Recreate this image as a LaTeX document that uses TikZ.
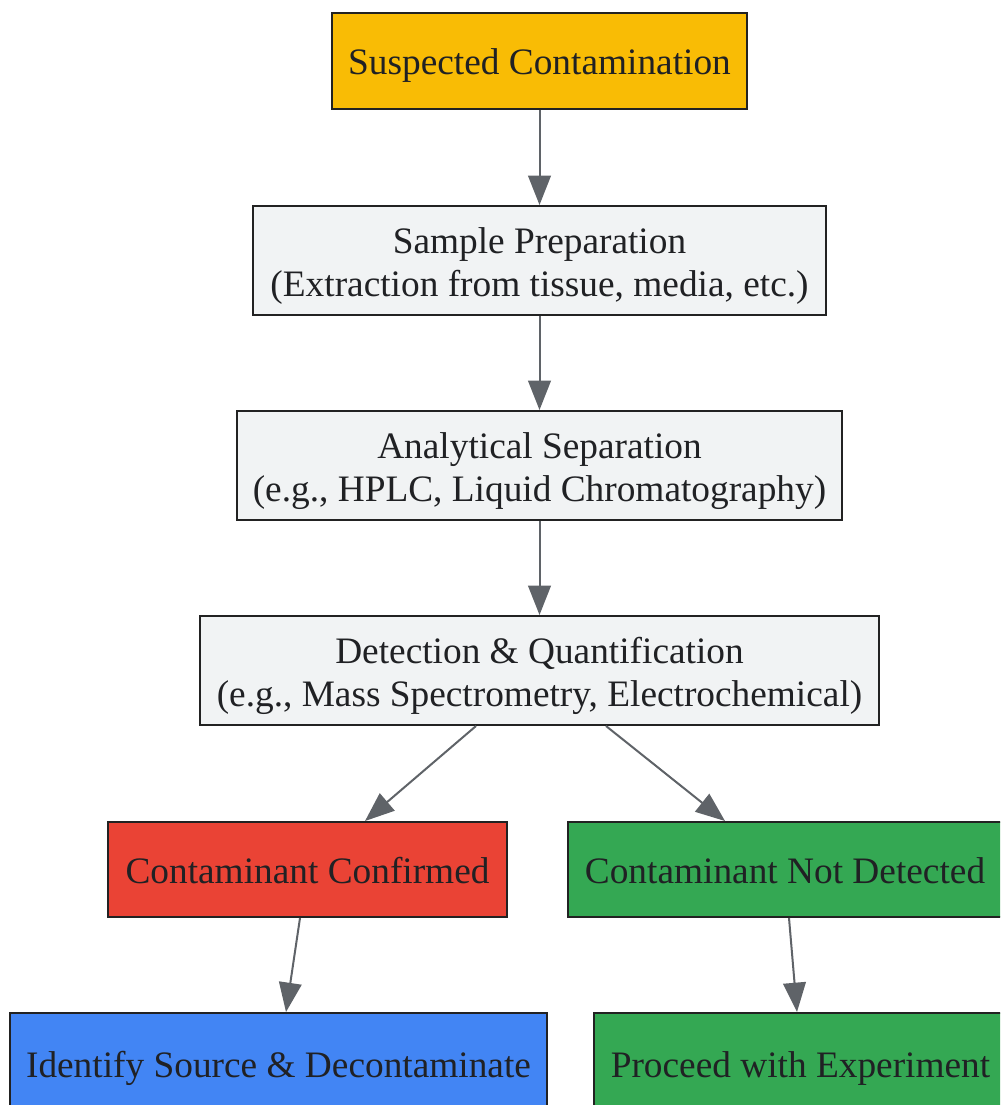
\documentclass[tikz,border=0pt]{standalone}
\usepackage{fontspec}
\setmainfont{Liberation Serif}
\usetikzlibrary{arrows.meta,calc}
\definecolor{txt}{HTML}{202124}
\definecolor{edge}{HTML}{5F6368}
\definecolor{bord}{HTML}{222222}
\definecolor{cyel}{HTML}{F9BC05}
\definecolor{cgry}{HTML}{F1F3F4}
\definecolor{cred}{HTML}{EA4335}
\definecolor{cgrn}{HTML}{34A853}
\definecolor{cblu}{HTML}{4285F4}
\tikzset{
  box/.style={draw=bord, line width=1.5pt, rectangle, inner sep=0pt},
  lbl/.style={align=center, text=txt, inner sep=0pt, yshift=-4pt,
    font=\fontsize{28}{32.5}\selectfont},
  conn/.style={draw=edge, line width=1.5pt, -{Triangle[length=22pt,width=17pt]}},
}
\begin{document}
\begin{tikzpicture}[x=0.75pt,y=-0.75pt]
\useasboundingbox (0,0) rectangle (1000,1105);
\clip (0,0) rectangle (1000,1105);
\node[box, fill=cyel, minimum width=311.25pt, minimum height=72pt,
  label={[lbl]center:{\strut Suspected Contamination}}] (top) at (539.5,61) {};
\node[box, fill=cgry, minimum width=429.75pt, minimum height=81.75pt,
  label={[lbl]center:{Sample Preparation\\(Extraction from tissue, media, etc.)}}] (prep) at (539.5,260.5) {};
\node[box, fill=cgry, minimum width=453.75pt, minimum height=81.75pt,
  label={[lbl]center:{Analytical Separation\\(e.g., HPLC, Liquid Chromatography)}}] (sep) at (539.5,465.5) {};
\node[box, fill=cgry, minimum width=509.25pt, minimum height=81.75pt,
  label={[lbl]center:{Detection \& Quantification\\(e.g., Mass Spectrometry, Electrochemical)}}] (det) at (539.5,670.5) {};
\node[box, fill=cred, minimum width=299.25pt, minimum height=71.25pt,
  label={[lbl]center:{\strut Contaminant Confirmed}}] (conf) at (307.5,869.5) {};
\node[box, fill=cgrn, minimum width=331.5pt, minimum height=71.25pt,
  label={[lbl, xshift=-3pt]center:{\strut Contaminant Not Detected}}] (notdet) at (789,869.5) {};
\node[box, fill=cblu, minimum width=402.75pt, minimum height=75pt,
  label={[lbl]center:{\strut Identify Source \& Decontaminate}}] (ident) at (278.5,1063) {};
\node[box, fill=cgrn, minimum width=309.75pt, minimum height=75pt,
  label={[lbl]center:{\strut Proceed with Experiment}}] (proc) at (800.5,1063) {};
\draw[conn] (top) -- (prep);
\draw[conn] (prep) -- (sep);
\draw[conn] (sep) -- (det);
\draw[conn] ($(det.south)+(-63.5,0)$) -- ($(conf.north)+(57.5,0)$);
\draw[conn] ($(det.south)+(66.5,0)$) -- ($(notdet.north)+(-64,0)$);
\draw[conn] ($(conf.south)+(-7.5,0)$) -- ($(ident.north)+(7.5,0)$);
\draw[conn] (notdet.south) -- ($(proc.north)+(-3.5,0)$);
\end{tikzpicture}
\end{document}
